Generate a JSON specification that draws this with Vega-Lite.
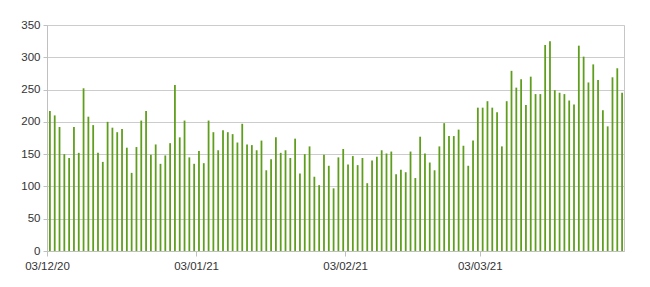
{
  "$schema": "https://vega.github.io/schema/vega-lite/v6.json",
  "width": 577,
  "height": 226,
  "autosize": {"type": "none"},
  "padding": {"left": 47, "top": 25, "right": 26, "bottom": 36},
  "background": "white",
  "config": {
    "view": {"stroke": "#c6c6c6", "strokeWidth": 1},
    "axis": {"labelFont": "Liberation Sans", "labelFontSize": 11.5, "labelColor": "#333333", "gridColor": "#cccccc", "domainColor": "#c0c0c0", "tickColor": "#c0c0c0"}
  },
  "data": {"values": [
    {"d":"2020-12-03","v":217},{"d":"2020-12-04","v":210},{"d":"2020-12-05","v":192},{"d":"2020-12-06","v":150},{"d":"2020-12-07","v":144},{"d":"2020-12-08","v":192},{"d":"2020-12-09","v":152},{"d":"2020-12-10","v":252},{"d":"2020-12-11","v":208},{"d":"2020-12-12","v":195},{"d":"2020-12-13","v":152},{"d":"2020-12-14","v":138},{"d":"2020-12-15","v":200},{"d":"2020-12-16","v":191},{"d":"2020-12-17","v":184},{"d":"2020-12-18","v":189},{"d":"2020-12-19","v":160},{"d":"2020-12-20","v":121},{"d":"2020-12-21","v":161},{"d":"2020-12-22","v":202},{"d":"2020-12-23","v":217},{"d":"2020-12-24","v":149},{"d":"2020-12-25","v":165},{"d":"2020-12-26","v":135},{"d":"2020-12-27","v":148},{"d":"2020-12-28","v":167},{"d":"2020-12-29","v":257},{"d":"2020-12-30","v":176},{"d":"2020-12-31","v":202},
    {"d":"2021-01-01","v":145},{"d":"2021-01-02","v":135},{"d":"2021-01-03","v":155},{"d":"2021-01-04","v":136},{"d":"2021-01-05","v":202},{"d":"2021-01-06","v":184},{"d":"2021-01-07","v":156},{"d":"2021-01-08","v":187},{"d":"2021-01-09","v":184},{"d":"2021-01-10","v":181},{"d":"2021-01-11","v":168},{"d":"2021-01-12","v":197},{"d":"2021-01-13","v":165},{"d":"2021-01-14","v":164},{"d":"2021-01-15","v":156},{"d":"2021-01-16","v":171},{"d":"2021-01-17","v":125},{"d":"2021-01-18","v":142},{"d":"2021-01-19","v":176},{"d":"2021-01-20","v":152},{"d":"2021-01-21","v":156},{"d":"2021-01-22","v":144},{"d":"2021-01-23","v":174},{"d":"2021-01-24","v":120},{"d":"2021-01-25","v":150},{"d":"2021-01-26","v":162},{"d":"2021-01-27","v":115},{"d":"2021-01-28","v":102},{"d":"2021-01-29","v":149},{"d":"2021-01-30","v":132},{"d":"2021-01-31","v":97},
    {"d":"2021-02-01","v":145},{"d":"2021-02-02","v":158},{"d":"2021-02-03","v":134},{"d":"2021-02-04","v":147},{"d":"2021-02-05","v":133},{"d":"2021-02-06","v":144},{"d":"2021-02-07","v":105},{"d":"2021-02-08","v":140},{"d":"2021-02-09","v":146},{"d":"2021-02-10","v":156},{"d":"2021-02-11","v":151},{"d":"2021-02-12","v":154},{"d":"2021-02-13","v":119},{"d":"2021-02-14","v":126},{"d":"2021-02-15","v":122},{"d":"2021-02-16","v":154},{"d":"2021-02-17","v":113},{"d":"2021-02-18","v":177},{"d":"2021-02-19","v":151},{"d":"2021-02-20","v":137},{"d":"2021-02-21","v":125},{"d":"2021-02-22","v":162},{"d":"2021-02-23","v":198},{"d":"2021-02-24","v":178},{"d":"2021-02-25","v":178},{"d":"2021-02-26","v":188},{"d":"2021-02-27","v":163},{"d":"2021-02-28","v":132},
    {"d":"2021-03-01","v":171},{"d":"2021-03-02","v":222},{"d":"2021-03-03","v":222},{"d":"2021-03-04","v":232},{"d":"2021-03-05","v":222},{"d":"2021-03-06","v":215},{"d":"2021-03-07","v":162},{"d":"2021-03-08","v":232},{"d":"2021-03-09","v":279},{"d":"2021-03-10","v":253},{"d":"2021-03-11","v":266},{"d":"2021-03-12","v":226},{"d":"2021-03-13","v":270},{"d":"2021-03-14","v":243},{"d":"2021-03-15","v":243},{"d":"2021-03-16","v":319},{"d":"2021-03-17","v":325},{"d":"2021-03-18","v":249},{"d":"2021-03-19","v":245},{"d":"2021-03-20","v":243},{"d":"2021-03-21","v":233},{"d":"2021-03-22","v":227},{"d":"2021-03-23","v":318},{"d":"2021-03-24","v":301},{"d":"2021-03-25","v":261},{"d":"2021-03-26","v":289},{"d":"2021-03-27","v":265},{"d":"2021-03-28","v":218},{"d":"2021-03-29","v":193},{"d":"2021-03-30","v":269},{"d":"2021-03-31","v":283},
    {"d":"2021-04-01","v":245}
  ]},
  "mark": {"type": "bar", "color": "#5f9e1d", "width": {"band": 0.58}},
  "encoding": {
    "x": {
      "field": "d", "type": "temporal", "timeUnit": "utcyearmonthdate", "title": null,
      "scale": {"type": "utc", "domain": [{"year": 2020, "month": 12, "date": 3, "utc": true}, {"year": 2021, "month": 4, "date": 2, "utc": true}]},
      "axis": {
        "values": [{"year": 2020, "month": 12, "date": 3, "utc": true}, {"year": 2021, "month": 1, "date": 3, "utc": true}, {"year": 2021, "month": 2, "date": 3, "utc": true}, {"year": 2021, "month": 3, "date": 3, "utc": true}],
        "labelExpr": "utcFormat(datum.value, '%d/%m/%y')", "grid": false, "tickSize": 5, "labelPadding": 4, "labelFlush": false, "labelOverlap": false
      }
    },
    "y": {
      "field": "v", "type": "quantitative", "title": null,
      "scale": {"domain": [0, 350], "nice": false},
      "axis": {"values": [0, 50, 100, 150, 200, 250, 300, 350], "tickSize": 4, "labelPadding": 3, "grid": true}
    }
  }
}
